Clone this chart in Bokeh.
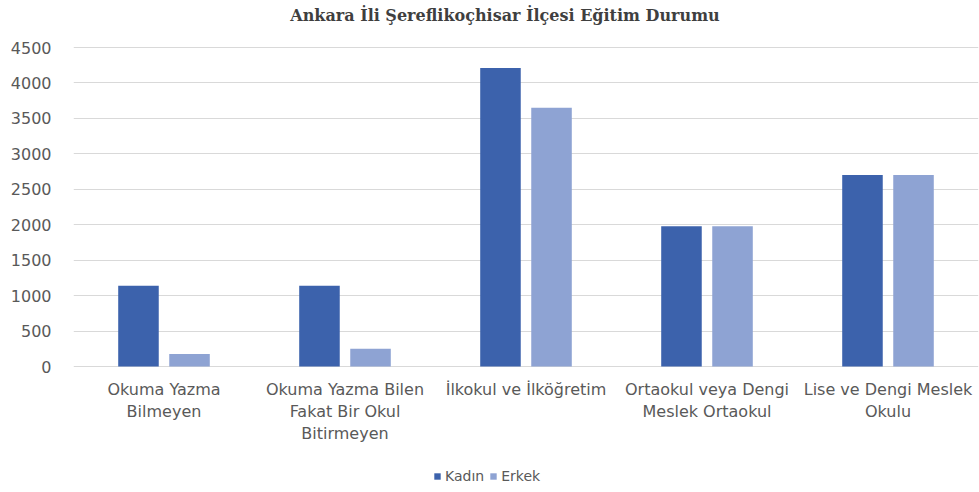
from bokeh.plotting import figure
from bokeh.models import ColumnDataSource, FactorRange, Range1d, Legend, LegendItem, FixedTicker
from bokeh.core.properties import value
from bokeh.transform import dodge
from bokeh.embed import file_html
from bokeh.resources import INLINE

# Education levels and counts by sex
title = "Ankara İli Şereflikoçhisar İlçesi Eğitim Durumu"
categories = [
    "Okuma Yazma Bilmeyen",
    "Okuma Yazma Bilen Fakat Bir Okul Bitirmeyen",
    "İlkokul ve İlköğretim",
    "Ortaokul veya Dengi Meslek Ortaokul",
    "Lise ve Dengi Meslek Okulu",
]
tick_labels = [
    "Okuma Yazma\nBilmeyen",
    "Okuma Yazma Bilen\nFakat Bir Okul\nBitirmeyen",
    "İlkokul ve İlköğretim",
    "Ortaokul veya Dengi\nMeslek Ortaokul",
    "Lise ve Dengi Meslek\nOkulu",
]
y_ticks = [0, 500, 1000, 1500, 2000, 2500, 3000, 3500, 4000, 4500]
kadin = [1140, 1140, 4210, 1980, 2700]
erkek = [175, 250, 3650, 1980, 2700]

source = ColumnDataSource(data=dict(cat=categories, label=tick_labels,
                                    kadin=kadin, erkek=erkek))

label_color = "#595959"
grid_color = "#d9d9d9"
font = "DejaVu Sans"

# The frame fills the whole height: the value scale is stretched past 0 and
# 4500 so the title, the category names and the legend fit inside it.
units_per_px = 4500 / 319
y_min = -126 * units_per_px
y_max = 4500 + 47 * units_per_px

p = figure(
    x_range=FactorRange(*categories, range_padding=0),
    y_range=Range1d(y_min, y_max),
    width=979, height=492,
    output_backend="svg", toolbar_location=None,
    min_border_left=73, min_border_right=1, min_border_top=0, min_border_bottom=0,
)
p.outline_line_color = None
p.background_fill_color = "white"
p.border_fill_color = "white"

bar_w = 0.224
off = 0.141
r1 = p.vbar(x=dodge("cat", -off, range=p.x_range), top="kadin", width=bar_w,
            source=source, fill_color="#3c62ac", line_color=None)
r2 = p.vbar(x=dodge("cat", off, range=p.x_range), top="erkek", width=bar_w,
            source=source, fill_color="#8ea3d3", line_color=None)

# category names under the zero line
p.text(x="cat", y=-13 * units_per_px, text="label", source=source,
       text_align="center", text_baseline="top", text_font=value(font),
       text_font_size="16px", text_color=label_color, text_line_height=1.18)

# chart title, centred on the page
p.text(x=[categories[2]], y=[4500 + 32 * units_per_px], text=[title], x_offset=-21,
       text_align="center", text_baseline="middle", text_font=value("DejaVu Serif"),
       text_font_style="bold", text_font_size="16px", text_color="#3f3f3f")

# y axis: labels only, grid lines across
p.yaxis.ticker = FixedTicker(ticks=y_ticks)
p.yaxis.axis_line_color = None
p.yaxis.major_tick_line_color = None
p.yaxis.minor_tick_line_color = None
p.yaxis.major_label_standoff = 16
p.yaxis.major_label_text_font = font
p.yaxis.major_label_text_font_size = "16px"
p.yaxis.major_label_text_color = label_color
p.ygrid.ticker = FixedTicker(ticks=y_ticks)
p.ygrid.grid_line_color = grid_color
p.ygrid.grid_line_width = 1
p.xgrid.grid_line_color = None
p.xaxis.visible = False

legend = Legend(
    items=[LegendItem(label="Kadın", renderers=[r1]), LegendItem(label="Erkek", renderers=[r2])],
    orientation="horizontal", location=(360, 8),
    glyph_width=8, glyph_height=8, label_height=14, label_text_font=font,
    label_text_font_size="14px", label_text_color=label_color,
    border_line_color=None, background_fill_alpha=0, padding=0, spacing=5,
    label_standoff=4, margin=0,
)
p.add_layout(legend, "center")

open("out.html", "w").write(file_html(p, INLINE))
